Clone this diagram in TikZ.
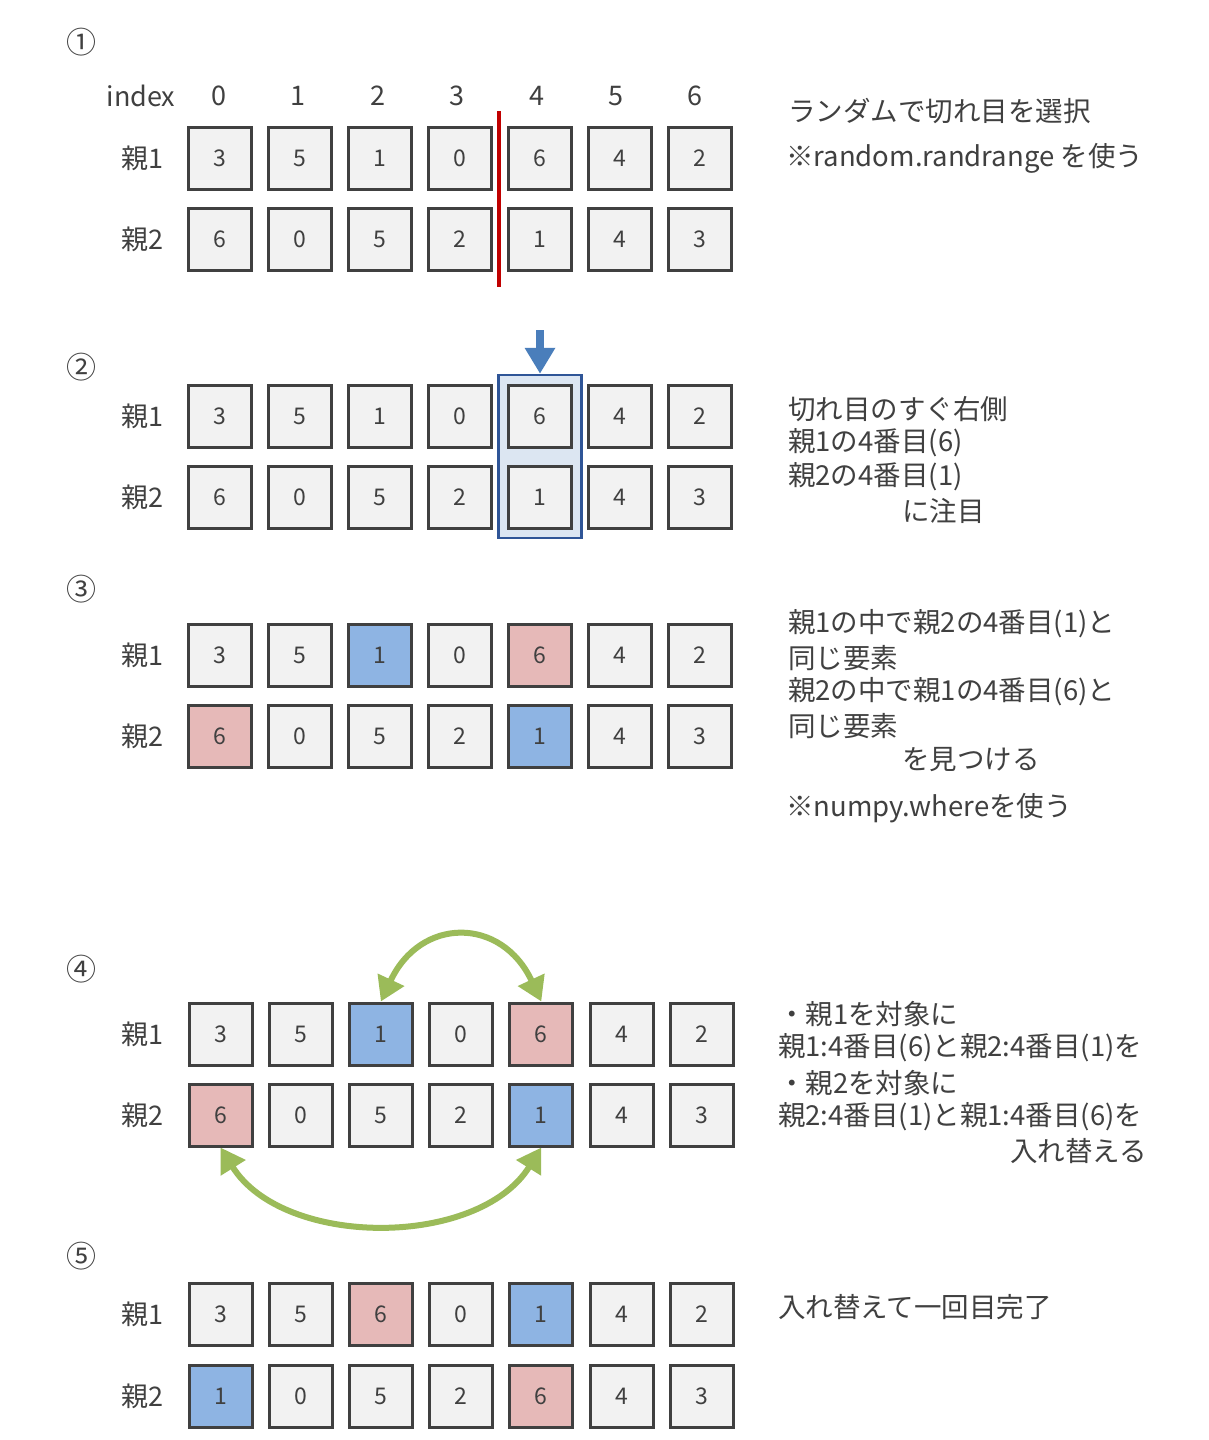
\documentclass[tikz,border=0pt]{standalone}
\usepackage{fontspec}
\setmainfont{Noto Sans CJK JP}
\usetikzlibrary{arrows.meta,fit,backgrounds}
\definecolor{txt}{HTML}{404040}
\definecolor{gr}{HTML}{F2F2F2}
\definecolor{pk}{HTML}{E6B9B8}
\definecolor{bl}{HTML}{8EB4E3}
\definecolor{cellline}{HTML}{404040}
\definecolor{hlfill}{HTML}{DCE6F2}
\definecolor{hlline}{HTML}{2F5597}
\definecolor{arrowblue}{HTML}{4A7EBB}
\definecolor{redln}{HTML}{C00000}
\definecolor{greenarr}{HTML}{9BBB59}
\newcommand\myrow[5]{%
  \foreach \v/\c [count=\i from 0] in {#5} {\node[cell,fill=\c] (#1\i) at ({#2+#3*\i},#4) {\v};}}
\tikzset{
  cell/.style={draw=cellline, line width=3pt, minimum width=63pt, minimum height=62pt,
    inner sep=0pt, text=txt, font=\fontsize{23}{23}\selectfont},
  lbl/.style={text=txt, inner sep=0pt, font=\fontsize{27}{27}\selectfont},
  num/.style={text=txt, inner sep=0pt, font=\fontsize{30}{30}\selectfont},
  note/.style={text=txt, inner sep=0pt, anchor=west, font=\fontsize{27.5}{27.5}\selectfont},
  garrow/.style={draw=greenarr, line width=6pt, {Triangle[width=28pt,length=24pt]}-{Triangle[width=28pt,length=24pt]}},
}
\begin{document}
\begin{tikzpicture}[x=1pt,y=-1pt]
\begin{scope}[on background layer]
\fill[white] (0,0) rectangle (1208,1440);
\end{scope}
\path[use as bounding box] (0,0) rectangle (1208,1440);

% circled numbers
\node[num] (c1) at (81,42) {①};
\node[num] (c2) at (81,367) {②};
\node[num] (c3) at (81,589) {③};
\node[num] (c4) at (81,969) {④};
\node[num] (c5) at (81,1256) {⑤};

% section 1
\node[lbl] (ix) at (141,96) {index};
\foreach \k in {0,...,6} {\node[lbl] (ix\k) at ({219+79.4*\k},96) {\k};}
\node[lbl] (s1l1) at (142,158) {親1};
\node[lbl] (s1l2) at (142,239) {親2};
\myrow{s1a}{220}{80}{158}{3/gr,5/gr,1/gr,0/gr,6/gr,4/gr,2/gr}
\myrow{s1b}{220}{80}{239}{6/gr,0/gr,5/gr,2/gr,1/gr,4/gr,3/gr}
\coordinate (rl1) at (499,111);
\coordinate (rl2) at (499,287);
\draw[redln, line width=3.5pt] (rl1) -- (rl2);
\node[note] (t11) at (788,111) {ランダムで切れ目を選択};
\node[note] (t12) at (786,158) {※random.randrange を使う};

% section 2
\node[lbl] (s2l1) at (142,416) {親1};
\node[lbl] (s2l2) at (142,497) {親2};
\myrow{s2a}{220}{80}{416}{3/gr,5/gr,1/gr,0/gr,6/gr,4/gr,2/gr}
\myrow{s2b}{220}{80}{497}{6/gr,0/gr,5/gr,2/gr,1/gr,4/gr,3/gr}
\begin{scope}[on background layer]
\node[fit=(s2a4)(s2b4), inner sep=8.5pt, draw=hlline, line width=2.5pt, fill=hlfill] (hl) {};
\end{scope}
\coordinate (a2s) at (540,330);
\draw[arrowblue, line width=8pt, -{Triangle[width=29pt,length=26pt]}] (a2s) -- (hl.north);
\node[note] (t21) at (788,409) {切れ目のすぐ右側};
\node[note] (t22) at (788,443) {親1の4番目(6)};
\node[note] (t23) at (788,477) {親2の4番目(1)};
\node[note] (t24) at (902,511) {に注目};

% section 3
\node[lbl] (s3l1) at (142,655) {親1};
\node[lbl] (s3l2) at (142,736) {親2};
\myrow{s3a}{220}{80}{655}{3/gr,5/gr,1/bl,0/gr,6/pk,4/gr,2/gr}
\myrow{s3b}{220}{80}{736}{6/pk,0/gr,5/gr,2/gr,1/bl,4/gr,3/gr}
\node[note] (t31) at (788,624) {親1の中で親2の4番目(1)と};
\node[note] (t32) at (788,658) {同じ要素};
\node[note] (t33) at (788,692) {親2の中で親1の4番目(6)と};
\node[note] (t34) at (788,726) {同じ要素};
\node[note] (t35) at (902,760) {を見つける};
\node[note] (t36) at (786,808) {※numpy.whereを使う};

% section 4
\node[lbl] (s4l1) at (142,1034) {親1};
\node[lbl] (s4l2) at (142,1115) {親2};
\myrow{s4a}{220.5}{80.2}{1034}{3/gr,5/gr,1/bl,0/gr,6/pk,4/gr,2/gr}
\myrow{s4b}{220.5}{80.2}{1115}{6/pk,0/gr,5/gr,2/gr,1/bl,4/gr,3/gr}
\draw[garrow] (s4a2.north) to[out=65,in=115,looseness=1.5] (s4a4.north);
\draw[garrow] (s4b0.south) to[out=-58,in=-122,looseness=0.95] (s4b4.south);
\node[note] (t41) at (778,1014) {・親1を対象に};
\node[note] (t42) at (778,1048) {親1:4番目(6)と親2:4番目(1)を};
\node[note] (t43) at (778,1083) {・親2を対象に};
\node[note] (t44) at (778,1117) {親2:4番目(1)と親1:4番目(6)を};
\node[note] (t45) at (1010,1151) {入れ替える};

% section 5
\node[lbl] (s5l1) at (142,1314) {親1};
\node[lbl] (s5l2) at (142,1396) {親2};
\myrow{s5a}{220.5}{80.2}{1314}{3/gr,5/gr,6/pk,0/gr,1/bl,4/gr,2/gr}
\myrow{s5b}{220.5}{80.2}{1396}{1/bl,0/gr,5/gr,2/gr,6/pk,4/gr,3/gr}
\node[note] (t51) at (778,1307) {入れ替えて一回目完了};
\end{tikzpicture}
\end{document}
